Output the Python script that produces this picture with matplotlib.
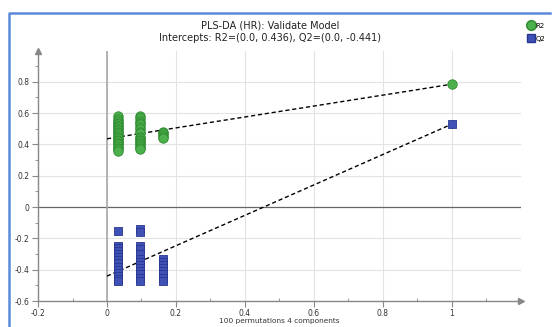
import matplotlib
matplotlib.use("Agg")
import matplotlib.pyplot as plt
from matplotlib.lines import Line2D

# permutation results (x = correlation of permuted y with original y)
r2_x = [0.032] * 22 + [0.097] * 18 + [0.162] * 5
r2_y = [0.58, 0.56, 0.55, 0.54, 0.53, 0.52, 0.51, 0.50, 0.49, 0.48, 0.47,
        0.46, 0.45, 0.44, 0.43, 0.42, 0.41, 0.40, 0.39, 0.38, 0.37, 0.36,
        0.58, 0.57, 0.55, 0.54, 0.53, 0.51, 0.50, 0.48, 0.47, 0.45, 0.44,
        0.43, 0.42, 0.41, 0.40, 0.39, 0.38, 0.37,
        0.48, 0.47, 0.46, 0.45, 0.44]
q2_x = [0.032] * 14 + [0.097] * 13 + [0.162] * 8
q2_y = [-0.15, -0.25, -0.26, -0.28, -0.30, -0.32, -0.34, -0.36, -0.38, -0.40,
        -0.42, -0.44, -0.46, -0.47,
        -0.14, -0.16, -0.25, -0.27, -0.30, -0.33, -0.35, -0.37, -0.39, -0.41,
        -0.43, -0.45, -0.47,
        -0.33, -0.35, -0.37, -0.39, -0.41, -0.43, -0.45, -0.47]

# original model
orig_x = 1.0
orig_r2 = 0.785
orig_q2 = 0.53
r2_intercept = 0.436
q2_intercept = -0.441

green = "#4cb04c"
green_edge = "#2f8a2f"
blue = "#3f51b5"
blue_edge = "#28368f"
axis_gray = "#888888"

fig = plt.figure(figsize=(5.55, 3.27), dpi=100)
ax = fig.add_axes([0.0685, 0.0795, 0.87, 0.766])
ax.set_axisbelow(True)

ax.set_xlim(-0.2, 1.2)
ax.set_ylim(-0.6, 1.0)

xt = [-0.2, 0, 0.2, 0.4, 0.6, 0.8, 1]
yt = [-0.6, -0.4, -0.2, 0, 0.2, 0.4, 0.6, 0.8]
ax.set_xticks(xt)
ax.set_xticklabels(["-0.2", "0", "0.2", "0.4", "0.6", "0.8", "1"])
ax.set_yticks(yt)
ax.set_yticklabels(["-0.6", "-0.4", "-0.2", "0", "0.2", "0.4", "0.6", "0.8"])
ax.set_xticks([-0.1, 0.1, 0.3, 0.5, 0.7, 0.9, 1.1], minor=True)
ax.set_yticks([-0.5, -0.3, -0.1, 0.1, 0.3, 0.5, 0.7, 0.9], minor=True)
ax.tick_params(which="major", length=4, width=0.8, color=axis_gray,
               labelsize=5.5, labelcolor="#333333", pad=2)
ax.tick_params(axis="x", which="major", pad=1.5)
ax.tick_params(which="minor", length=2, width=0.6, color=axis_gray)
ax.tick_params(axis="x", which="minor", direction="in")

ax.grid(True, which="major", color="#e3e3e3", linewidth=0.8)
ax.axhline(0, color="#666666", linewidth=0.9, zorder=2)
ax.axvline(0, color="#a8a8a8", linewidth=1.2, zorder=2)

for s in ["top", "right"]:
    ax.spines[s].set_visible(False)
for s in ["left", "bottom"]:
    ax.spines[s].set_color(axis_gray)
    ax.spines[s].set_linewidth(1.0)
ax.plot(1, 0, ">", color=axis_gray, markersize=5, transform=ax.transAxes,
        clip_on=False)
ax.plot(0, 1, "^", color=axis_gray, markersize=5, transform=ax.transAxes,
        clip_on=False)

# regression lines
ax.plot([0, orig_x], [r2_intercept, orig_r2], "--", color="black",
        linewidth=1.0, dashes=(3, 2), zorder=3)
ax.plot([0, orig_x], [q2_intercept, orig_q2], "--", color="black",
        linewidth=1.0, dashes=(3, 2), zorder=3)

ax.scatter(r2_x + [orig_x], r2_y + [orig_r2], s=46, marker="o", c=green,
           edgecolors=green_edge, linewidths=0.6, zorder=4)
ax.scatter(q2_x + [orig_x], q2_y + [orig_q2], s=36, marker="s", c=blue,
           edgecolors=blue_edge, linewidths=0.6, zorder=4)

ax.set_xlabel("100 permutations 4 components", fontsize=5.3, color="#333333",
              labelpad=0)

fig.text(0.487, 1 - 25 / 327, "PLS-DA (HR): Validate Model", ha="center",
         va="center", fontsize=7, color="#222222")
fig.text(0.487, 1 - 38 / 327, "Intercepts: R2=(0.0, 0.436), Q2=(0.0, -0.441)",
         ha="center", va="center", fontsize=7, color="#222222")

handles = [
    Line2D([], [], marker="o", linestyle="", markersize=7,
           markerfacecolor=green, markeredgecolor=green_edge, label="R2"),
    Line2D([], [], marker="s", linestyle="", markersize=6,
           markerfacecolor=blue, markeredgecolor=blue_edge, label="Q2"),
]
fig.legend(handles=handles, loc="upper left",
           bbox_to_anchor=(523 / 555, 1 - 18 / 327),
           frameon=False, fontsize=5, handletextpad=0.1, labelspacing=1.0,
           handlelength=1.0, borderpad=0.2)

# blue frame (left and top)
fig.add_artist(Line2D([9 / 555, 9 / 555, 550 / 555],
                      [0, 1 - 13 / 327, 1 - 13 / 327],
                      transform=fig.transFigure, color="#5b8ad8",
                      linewidth=1.8))

fig.savefig("out.png", dpi=100)
